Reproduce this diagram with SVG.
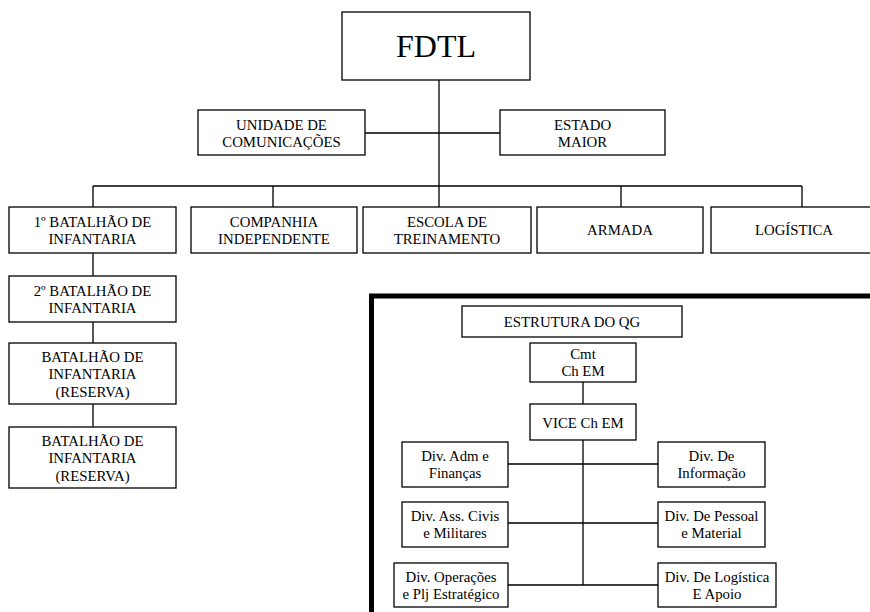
<svg xmlns="http://www.w3.org/2000/svg" width="870" height="612" viewBox="0 0 870 612">
<style>
.box{fill:#fff;stroke:#000;stroke-width:1.3}
.ln{fill:none;stroke:#000;stroke-width:1.3}
.frame{fill:none;stroke:#000;stroke-width:5}
text{font-family:'Liberation Serif','Times New Roman',serif;font-size:14.8px;fill:#000;text-anchor:middle}
.big{font-size:32px}
</style>
<rect width="870" height="612" fill="#fff"/>
<rect class="frame" x="371.5" y="296" width="520" height="330"/>
<g id="connectors">
<path class="ln" d="M439,80 V207 M365,133 H500 M93,186 H802 M93,186 V207 M273,186 V207 M621,186 V207 M802,186 V207 M93,253 V276 M93,322 V343 M93,404 V427"/>
<path class="ln" d="M583,382 V404 M583,440 V585 M508,464 H658 M508,523 H658 M508,585 H658"/>
</g>
<g id="fdtl"><rect class="box" x="342" y="12" width="188" height="68"/><text class="big" x="436" y="57">FDTL</text></g>
<g id="unidade"><rect class="box" x="198" y="110" width="167" height="45"/><text x="281.5" y="129.5">UNIDADE DE</text><text x="281.5" y="146.5">COMUNICAÇÕES</text></g>
<g id="estado"><rect class="box" x="500" y="110" width="165" height="45"/><text x="582.5" y="129.5">ESTADO</text><text x="582.5" y="146.5">MAIOR</text></g>
<g id="bat1"><rect class="box" x="9" y="207" width="167" height="46"/><text x="92.5" y="226.5">1º BATALHÃO DE</text><text x="92.5" y="243.5">INFANTARIA</text></g>
<g id="companhia"><rect class="box" x="191" y="207" width="166" height="46"/><text x="274" y="226.5">COMPANHIA</text><text x="274" y="243.5">INDEPENDENTE</text></g>
<g id="escola"><rect class="box" x="363" y="207" width="168" height="46"/><text x="447" y="226.5">ESCOLA DE</text><text x="447" y="243.5">TREINAMENTO</text></g>
<g id="armada"><rect class="box" x="537" y="207" width="166" height="46"/><text x="620" y="235">ARMADA</text></g>
<g id="logistica"><rect class="box" x="711" y="207" width="166" height="46"/><text x="794" y="235">LOGÍSTICA</text></g>
<g id="bat2"><rect class="box" x="9" y="276" width="167" height="46"/><text x="92.5" y="295.5">2º BATALHÃO DE</text><text x="92.5" y="312.5">INFANTARIA</text></g>
<g id="bat3"><rect class="box" x="9" y="343" width="167" height="61"/><text x="92.5" y="361.5">BATALHÃO DE</text><text x="92.5" y="379">INFANTARIA</text><text x="92.5" y="396.5">(RESERVA)</text></g>
<g id="bat4"><rect class="box" x="9" y="427" width="167" height="61"/><text x="92.5" y="445.5">BATALHÃO DE</text><text x="92.5" y="463">INFANTARIA</text><text x="92.5" y="480.5">(RESERVA)</text></g>
<g id="qg"><rect class="box" x="462" y="306" width="220" height="31"/><text x="572" y="326.5">ESTRUTURA DO QG</text></g>
<g id="cmt"><rect class="box" x="530" y="343" width="106" height="39"/><text x="583" y="358.7">Cmt</text><text x="583" y="376.2">Ch EM</text></g>
<g id="vice"><rect class="box" x="530" y="404" width="106" height="36"/><text x="583" y="427.5">VICE Ch EM</text></g>
<g id="divadm"><rect class="box" x="402" y="442" width="106" height="45"/><text x="455" y="460.7">Div. Adm e</text><text x="455" y="478">Finanças</text></g>
<g id="divinfo"><rect class="box" x="658" y="442" width="107" height="45"/><text x="711.5" y="460.7">Div. De</text><text x="711.5" y="478">Informação</text></g>
<g id="divass"><rect class="box" x="402" y="502" width="106" height="45"/><text x="455" y="520.7">Div. Ass. Civis</text><text x="455" y="538">e Militares</text></g>
<g id="divpes"><rect class="box" x="658" y="502" width="107" height="45"/><text x="711.5" y="520.7">Div. De Pessoal</text><text x="711.5" y="538">e Material</text></g>
<g id="divop"><rect class="box" x="394" y="563" width="114" height="44"/><text x="451" y="581.5">Div. Operações</text><text x="451" y="599">e Plj Estratégico</text></g>
<g id="divlog"><rect class="box" x="658" y="563" width="118" height="44"/><text x="717" y="581.5">Div. De Logística</text><text x="717" y="599">E Apoio</text></g>
</svg>
